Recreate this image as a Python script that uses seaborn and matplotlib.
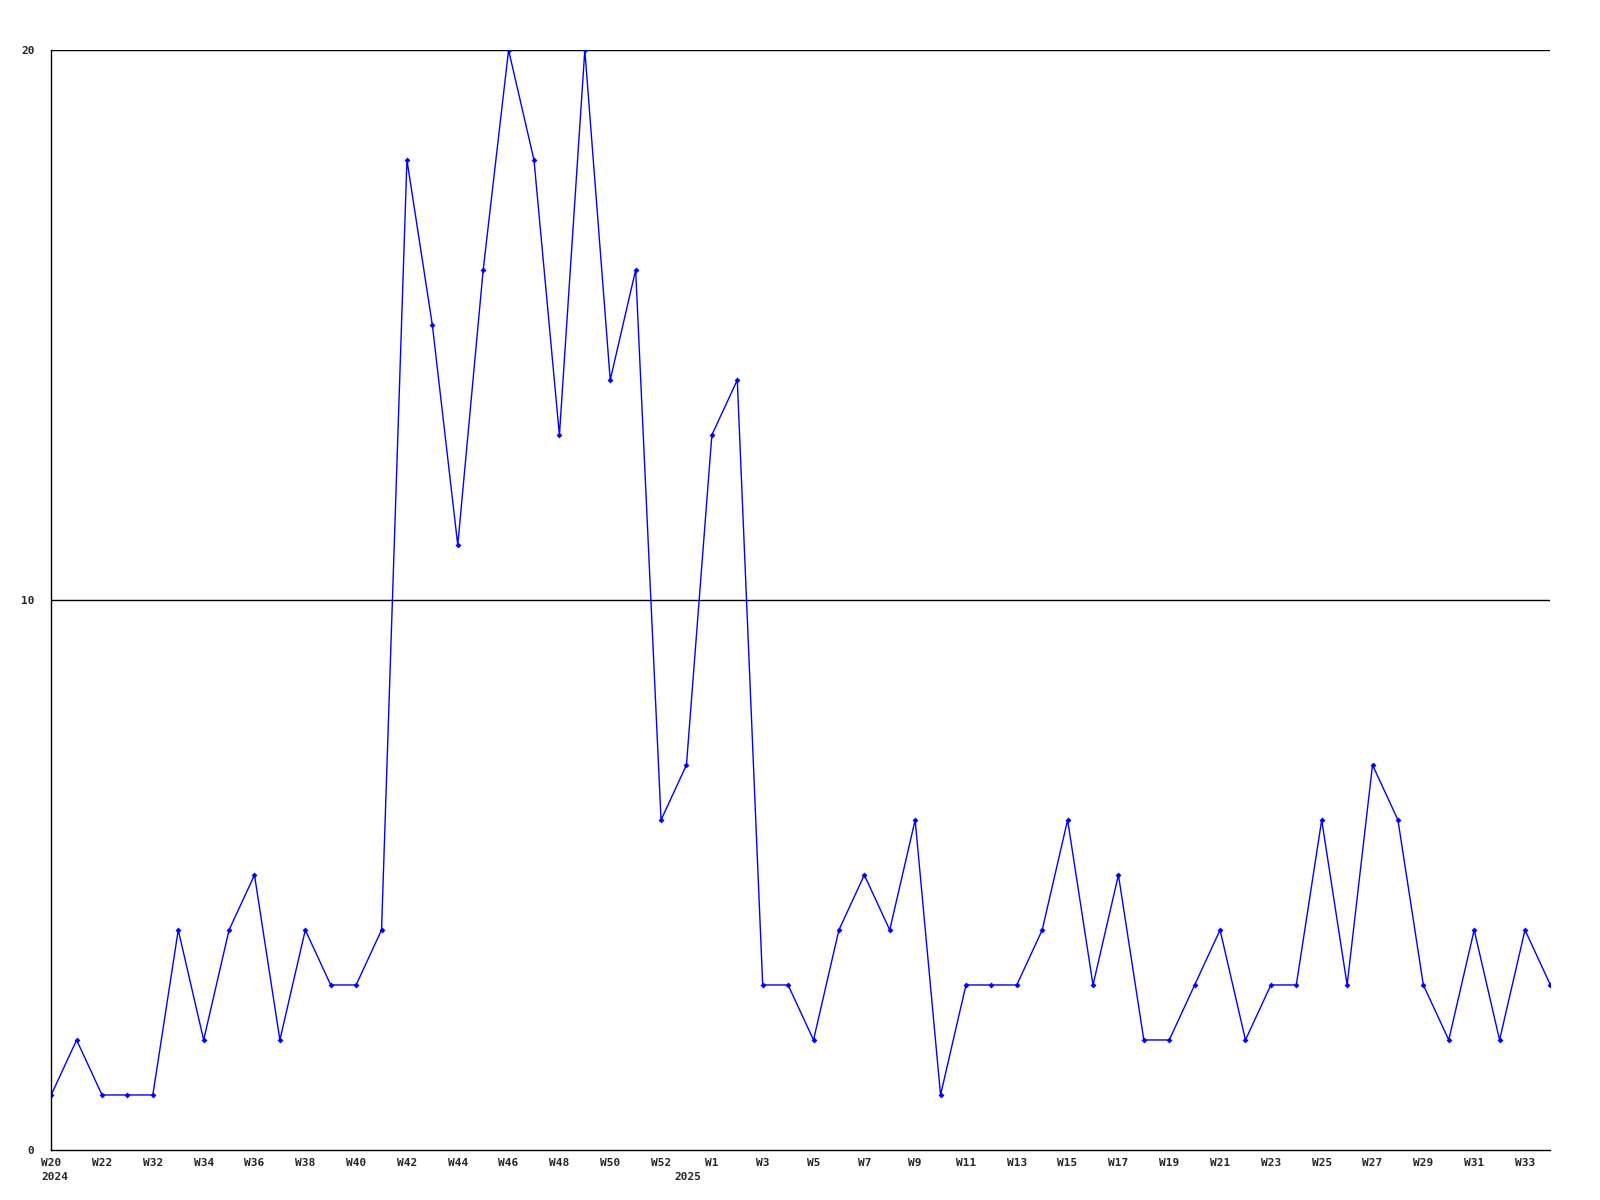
import matplotlib
matplotlib.use('Agg')
import matplotlib.pyplot as plt
import matplotlib.transforms as mtransforms
import seaborn as sns
import pandas as pd

# weekly counts, 2024 W20 .. 2025 W34
weeks = (['W20', 'W21', 'W22', 'W31'] + ['W%d' % w for w in range(32, 54)]
         + ['W%d' % w for w in range(1, 35)])
counts = [1, 2, 1, 1, 1, 4, 2, 4, 5, 2, 4, 3, 3, 4, 18, 15, 11, 16, 20, 18,
          13, 20, 14, 16, 6, 7, 13, 14, 3, 3, 2, 4, 5, 4, 6, 1, 3, 3, 3, 4,
          6, 3, 5, 2, 2, 3, 4, 2, 3, 3, 6, 3, 7, 6, 3, 2, 4, 2, 4, 3]
years = ['2024', '2025']
year_pos = [0.16, 25.07]
y_ticks = [0, 10, 20]

df = pd.DataFrame({'idx': range(len(counts)), 'count': counts})

sns.set_theme(style='white')
plt.rcParams['font.family'] = ['DejaVu Sans Mono']

fig = plt.figure(figsize=(16, 12), dpi=100)
ax = fig.add_axes([0.032, 0.0417, 0.937, 0.9166])

sns.lineplot(data=df, x='idx', y='count', ax=ax, color='#0000ff', linewidth=1,
             marker='D', markersize=3, markeredgewidth=0)

ax.set_xlim(0, len(counts) - 1)
ax.set_ylim(0, 20)
ax.set_xticks(range(0, len(counts), 2))
ax.set_xticklabels(weeks[::2], fontsize=8, fontweight='bold')
ax.set_yticks(y_ticks)
ax.set_yticklabels([str(t) for t in y_ticks], fontsize=8, fontweight='bold')
ax.tick_params(axis='x', length=0, pad=6)
ax.tick_params(axis='y', length=0, pad=12)
ax.set_xlabel('')
ax.set_ylabel('')

for y in [10, 20]:
    ax.axhline(y, color='black', linewidth=1, zorder=0)

for s in ['top', 'right']:
    ax.spines[s].set_visible(False)
for s in ['left', 'bottom']:
    ax.spines[s].set_color('black')
    ax.spines[s].set_linewidth(1)

trans = mtransforms.blended_transform_factory(ax.transData, ax.transAxes)
for yr, xp in zip(years, year_pos):
    ax.text(xp, -0.025, yr, transform=trans, ha='center', va='center',
            fontsize=8, fontweight='bold')

fig.savefig('out.png', dpi=100, facecolor='white')
